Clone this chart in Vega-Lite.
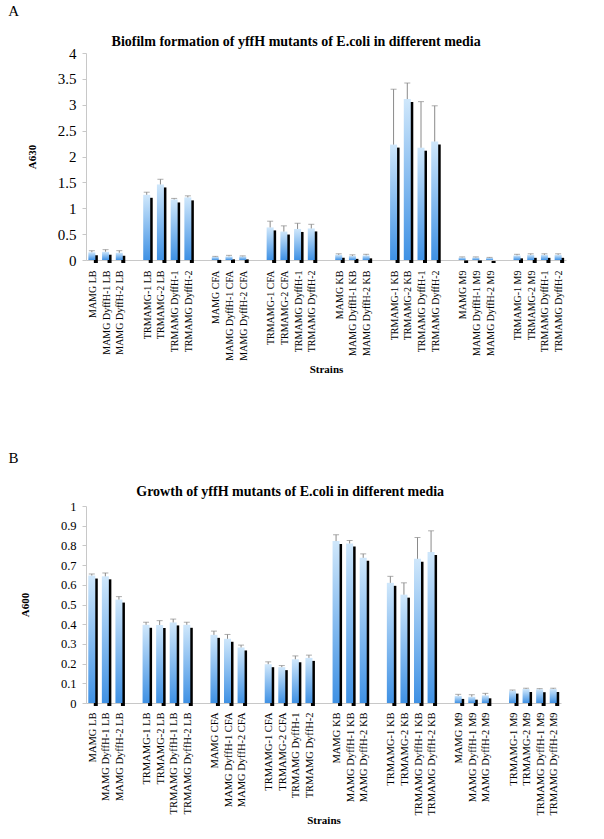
{
  "$schema": "https://vega.github.io/schema/vega-lite/v6.json",
  "padding": {"left": 8, "top": 4, "right": 5, "bottom": 0},
  "background": "white",
  "config": {
    "font": "Liberation Serif",
    "view": {"stroke": null},
    "axis": {"domainColor": "#c8c8c8", "tickColor": "#c8c8c8", "labelColor": "#000000", "titleColor": "#000000", "labelFont": "Liberation Serif", "titleFont": "Liberation Serif", "grid": false},
    "title": {"font": "Liberation Serif", "color": "#000000"}
  },
  "datasets": {
    "a": [
      {"s": "MAMG LB", "v": 0.15, "hi": 0.18},
      {"s": "MAMG DyffH-1 LB", "v": 0.16, "hi": 0.20},
      {"s": "MAMG DyffH-2 LB", "v": 0.14, "hi": 0.18},
      {"s": "TRMAMG-1 LB", "v": 1.26, "hi": 1.31},
      {"s": "TRMAMG-2 LB", "v": 1.46, "hi": 1.56},
      {"s": "TRMAMG DyffH-1|LB", "v": 1.17, "hi": 1.19},
      {"s": "TRMAMG DyffH-2|LB", "v": 1.21, "hi": 1.24},
      {"s": "MAMG CFA", "v": 0.06, "hi": 0.07},
      {"s": "MAMG DyffH-1 CFA", "v": 0.07, "hi": 0.09},
      {"s": "MAMG DyffH-2 CFA", "v": 0.07, "hi": 0.08},
      {"s": "TRMAMG-1 CFA", "v": 0.63, "hi": 0.75},
      {"s": "TRMAMG-2 CFA", "v": 0.55, "hi": 0.66},
      {"s": "TRMAMG DyffH-1|CFA", "v": 0.60, "hi": 0.71},
      {"s": "TRMAMG DyffH-2|CFA", "v": 0.61, "hi": 0.69},
      {"s": "MAMG KB", "v": 0.10, "hi": 0.12},
      {"s": "MAMG DyffH-1 KB", "v": 0.08, "hi": 0.10},
      {"s": "MAMG DyffH-2 KB", "v": 0.09, "hi": 0.11},
      {"s": "TRMAMG-1 KB", "v": 2.23, "hi": 3.30},
      {"s": "TRMAMG-2 KB", "v": 3.11, "hi": 3.42},
      {"s": "TRMAMG DyffH-1|KB", "v": 2.17, "hi": 3.06},
      {"s": "TRMAMG DyffH-2|KB", "v": 2.29, "hi": 2.98},
      {"s": "MAMG M9", "v": 0.05, "hi": 0.06},
      {"s": "MAMG DyffH-1 M9", "v": 0.05, "hi": 0.06},
      {"s": "MAMG DyffH-2 M9", "v": 0.04, "hi": 0.05},
      {"s": "TRMAMG-1 M9", "v": 0.09, "hi": 0.11},
      {"s": "TRMAMG-2 M9", "v": 0.10, "hi": 0.12},
      {"s": "TRMAMG DyffH-1|M9", "v": 0.10, "hi": 0.12},
      {"s": "TRMAMG DyffH-2|M9", "v": 0.10, "hi": 0.12}
    ],
    "b": [
      {"s": "MAMG LB", "v": 0.647, "hi": 0.655},
      {"s": "MAMG DyffH-1 LB", "v": 0.643, "hi": 0.66},
      {"s": "MAMG DyffH-2 LB", "v": 0.525, "hi": 0.54},
      {"s": "TRMAMG-1 LB", "v": 0.397, "hi": 0.41},
      {"s": "TRMAMG-2 LB", "v": 0.396, "hi": 0.418},
      {"s": "TRMAMG DyffH-1 LB", "v": 0.409, "hi": 0.426},
      {"s": "TRMAMG DyffH-2 LB", "v": 0.397, "hi": 0.41},
      {"s": "MAMG CFA", "v": 0.346, "hi": 0.365},
      {"s": "MAMG DyffH-1 CFA", "v": 0.326, "hi": 0.348},
      {"s": "MAMG DyffH-2 CFA", "v": 0.282, "hi": 0.294},
      {"s": "TRMAMG-1 CFA", "v": 0.197, "hi": 0.209},
      {"s": "TRMAMG-2 CFA", "v": 0.182, "hi": 0.19},
      {"s": "TRMAMG DyffH-1|CFA", "v": 0.222, "hi": 0.239},
      {"s": "TRMAMG DyffH-2|CFA", "v": 0.229, "hi": 0.243},
      {"s": "MAMG KB", "v": 0.822, "hi": 0.854},
      {"s": "MAMG DyffH-1 KB", "v": 0.81, "hi": 0.825},
      {"s": "MAMG DyffH-2 KB", "v": 0.737, "hi": 0.757},
      {"s": "TRMAMG-1 KB", "v": 0.61, "hi": 0.643},
      {"s": "TRMAMG-2 KB", "v": 0.55, "hi": 0.61},
      {"s": "TRMAMG DyffH-1 KB", "v": 0.732, "hi": 0.84},
      {"s": "TRMAMG DyffH-2 KB", "v": 0.766, "hi": 0.874},
      {"s": "MAMG M9", "v": 0.036, "hi": 0.044},
      {"s": "MAMG DyffH-1 M9", "v": 0.032, "hi": 0.042},
      {"s": "MAMG DyffH-2 M9", "v": 0.039, "hi": 0.049},
      {"s": "TRMAMG-1 M9", "v": 0.063, "hi": 0.066},
      {"s": "TRMAMG-2 M9", "v": 0.071, "hi": 0.075},
      {"s": "TRMAMG DyffH-1 M9", "v": 0.07, "hi": 0.073},
      {"s": "TRMAMG DyffH-2 M9", "v": 0.071, "hi": 0.075}
    ]
  },
  "spacing": 76,
  "vconcat": [
    {
      "title": {"text": "A", "anchor": "start", "frame": "bounds", "fontSize": 15, "fontWeight": "normal", "offset": 16, "dx": -18},
      "vconcat": [
        {
          "width": 480,
          "height": 207,
          "title": {"text": "Biofilm formation of yffH mutants of E.coli in different media", "fontSize": 14, "fontWeight": "bold", "anchor": "middle", "frame": "bounds", "offset": -3},
          "data": {"name": "a"},
          "encoding": {
            "x": {
              "field": "s", "type": "nominal", "title": "Strains",
              "scale": {"domain": ["MAMG LB", "MAMG DyffH-1 LB", "MAMG DyffH-2 LB", "|1", "TRMAMG-1 LB", "TRMAMG-2 LB", "TRMAMG DyffH-1|LB", "TRMAMG DyffH-2|LB", "|2", "MAMG CFA", "MAMG DyffH-1 CFA", "MAMG DyffH-2 CFA", "|3", "TRMAMG-1 CFA", "TRMAMG-2 CFA", "TRMAMG DyffH-1|CFA", "TRMAMG DyffH-2|CFA", "|4", "MAMG KB", "MAMG DyffH-1 KB", "MAMG DyffH-2 KB", "|5", "TRMAMG-1 KB", "TRMAMG-2 KB", "TRMAMG DyffH-1|KB", "TRMAMG DyffH-2|KB", "|6", "MAMG M9", "MAMG DyffH-1 M9", "MAMG DyffH-2 M9", "|7", "TRMAMG-1 M9", "TRMAMG-2 M9", "TRMAMG DyffH-1|M9", "TRMAMG DyffH-2|M9"], "paddingInner": 0, "paddingOuter": 0},
              "axis": {"labelExpr": "split(datum.value, '|')[0]", "labelAngle": 270, "labelFontSize": 10, "ticks": false, "labelPadding": 10, "titleFontSize": 11, "titleFontWeight": "bold", "titlePadding": 3}
            }
          },
          "layer": [
            {
              "mark": {"type": "bar", "color": "#000000", "size": 4, "xOffset": 3, "yOffset": 3},
              "encoding": {"y": {"field": "v", "type": "quantitative", "title": "A630", "scale": {"domain": [0, 4], "nice": false}, "axis": {"values": [0, 0.5, 1, 1.5, 2, 2.5, 3, 3.5, 4], "format": "~g", "labelOverlap": false, "labelFontSize": 15, "tickSize": 4, "labelPadding": 6, "titleFontSize": 11, "titleFontWeight": "bold", "titlePadding": 20}}}
            },
            {
              "mark": {"type": "bar", "size": 7, "xOffset": -1, "color": {"gradient": "linear", "x1": 0, "y1": 0, "x2": 0, "y2": 1, "stops": [{"offset": 0, "color": "#cfe7fb"}, {"offset": 1, "color": "#3f91e4"}]}},
              "encoding": {"y": {"field": "v", "type": "quantitative", "title": "A630", "scale": {"domain": [0, 4], "nice": false}, "axis": {"values": [0, 0.5, 1, 1.5, 2, 2.5, 3, 3.5, 4], "format": "~g", "labelOverlap": false, "labelFontSize": 15, "tickSize": 4, "labelPadding": 6, "titleFontSize": 11, "titleFontWeight": "bold", "titlePadding": 20}}}
            },
            {
              "mark": {"type": "rule", "color": "#8a8a8a", "xOffset": -1},
              "encoding": {"y": {"field": "v", "type": "quantitative", "title": "A630", "scale": {"domain": [0, 4], "nice": false}, "axis": {"values": [0, 0.5, 1, 1.5, 2, 2.5, 3, 3.5, 4], "format": "~g", "labelOverlap": false, "labelFontSize": 15, "tickSize": 4, "labelPadding": 6, "titleFontSize": 11, "titleFontWeight": "bold", "titlePadding": 20}}, "y2": {"field": "hi"}}
            },
            {
              "mark": {"type": "tick", "color": "#8a8a8a", "size": 6, "thickness": 1, "xOffset": -1, "orient": "horizontal"},
              "encoding": {"y": {"field": "hi", "type": "quantitative", "title": "A630", "scale": {"domain": [0, 4], "nice": false}, "axis": {"values": [0, 0.5, 1, 1.5, 2, 2.5, 3, 3.5, 4], "format": "~g", "labelOverlap": false, "labelFontSize": 15, "tickSize": 4, "labelPadding": 6, "titleFontSize": 11, "titleFontWeight": "bold", "titlePadding": 20}}}
            }
          ]
        }
      ]
    },
    {
      "title": {"text": "B", "anchor": "start", "frame": "bounds", "fontSize": 15, "fontWeight": "normal", "offset": 19, "dx": -11},
      "vconcat": [
        {
          "width": 475,
          "height": 197,
          "title": {"text": "Growth of yffH mutants of E.coli in different media", "fontSize": 14, "fontWeight": "bold", "anchor": "middle", "frame": "bounds", "offset": 1},
          "data": {"name": "b"},
          "encoding": {
            "x": {
              "field": "s", "type": "nominal", "title": "Strains",
              "scale": {"domain": ["MAMG LB", "MAMG DyffH-1 LB", "MAMG DyffH-2 LB", "|1", "TRMAMG-1 LB", "TRMAMG-2 LB", "TRMAMG DyffH-1 LB", "TRMAMG DyffH-2 LB", "|2", "MAMG CFA", "MAMG DyffH-1 CFA", "MAMG DyffH-2 CFA", "|3", "TRMAMG-1 CFA", "TRMAMG-2 CFA", "TRMAMG DyffH-1|CFA", "TRMAMG DyffH-2|CFA", "|4", "MAMG KB", "MAMG DyffH-1 KB", "MAMG DyffH-2 KB", "|5", "TRMAMG-1 KB", "TRMAMG-2 KB", "TRMAMG DyffH-1 KB", "TRMAMG DyffH-2 KB", "|6", "MAMG M9", "MAMG DyffH-1 M9", "MAMG DyffH-2 M9", "|7", "TRMAMG-1 M9", "TRMAMG-2 M9", "TRMAMG DyffH-1 M9", "TRMAMG DyffH-2 M9"], "paddingInner": 0, "paddingOuter": 0},
              "axis": {"labelExpr": "split(datum.value, '|')[0]", "labelAngle": 270, "labelFontSize": 10.5, "ticks": false, "labelPadding": 9, "titleFontSize": 11, "titleFontWeight": "bold", "titlePadding": -1}
            }
          },
          "layer": [
            {
              "mark": {"type": "bar", "color": "#000000", "size": 4, "xOffset": 3, "yOffset": 3},
              "encoding": {"y": {"field": "v", "type": "quantitative", "title": "A600", "scale": {"domain": [0, 1], "nice": false}, "axis": {"values": [0, 0.1, 0.2, 0.3, 0.4, 0.5, 0.6, 0.7, 0.8, 0.9, 1], "format": "~g", "labelOverlap": false, "labelFontSize": 12.5, "tickSize": 4, "labelPadding": 6, "titleFontSize": 11, "titleFontWeight": "bold", "titlePadding": 30}}}
            },
            {
              "mark": {"type": "bar", "size": 7, "xOffset": -1, "color": {"gradient": "linear", "x1": 0, "y1": 0, "x2": 0, "y2": 1, "stops": [{"offset": 0, "color": "#cfe7fb"}, {"offset": 1, "color": "#3f91e4"}]}},
              "encoding": {"y": {"field": "v", "type": "quantitative", "title": "A600", "scale": {"domain": [0, 1], "nice": false}, "axis": {"values": [0, 0.1, 0.2, 0.3, 0.4, 0.5, 0.6, 0.7, 0.8, 0.9, 1], "format": "~g", "labelOverlap": false, "labelFontSize": 12.5, "tickSize": 4, "labelPadding": 6, "titleFontSize": 11, "titleFontWeight": "bold", "titlePadding": 30}}}
            },
            {
              "mark": {"type": "rule", "color": "#8a8a8a", "xOffset": -1},
              "encoding": {"y": {"field": "v", "type": "quantitative", "title": "A600", "scale": {"domain": [0, 1], "nice": false}, "axis": {"values": [0, 0.1, 0.2, 0.3, 0.4, 0.5, 0.6, 0.7, 0.8, 0.9, 1], "format": "~g", "labelOverlap": false, "labelFontSize": 12.5, "tickSize": 4, "labelPadding": 6, "titleFontSize": 11, "titleFontWeight": "bold", "titlePadding": 30}}, "y2": {"field": "hi"}}
            },
            {
              "mark": {"type": "tick", "color": "#8a8a8a", "size": 6, "thickness": 1, "xOffset": -1, "orient": "horizontal"},
              "encoding": {"y": {"field": "hi", "type": "quantitative", "title": "A600", "scale": {"domain": [0, 1], "nice": false}, "axis": {"values": [0, 0.1, 0.2, 0.3, 0.4, 0.5, 0.6, 0.7, 0.8, 0.9, 1], "format": "~g", "labelOverlap": false, "labelFontSize": 12.5, "tickSize": 4, "labelPadding": 6, "titleFontSize": 11, "titleFontWeight": "bold", "titlePadding": 30}}}
            }
          ]
        }
      ]
    }
  ]
}
